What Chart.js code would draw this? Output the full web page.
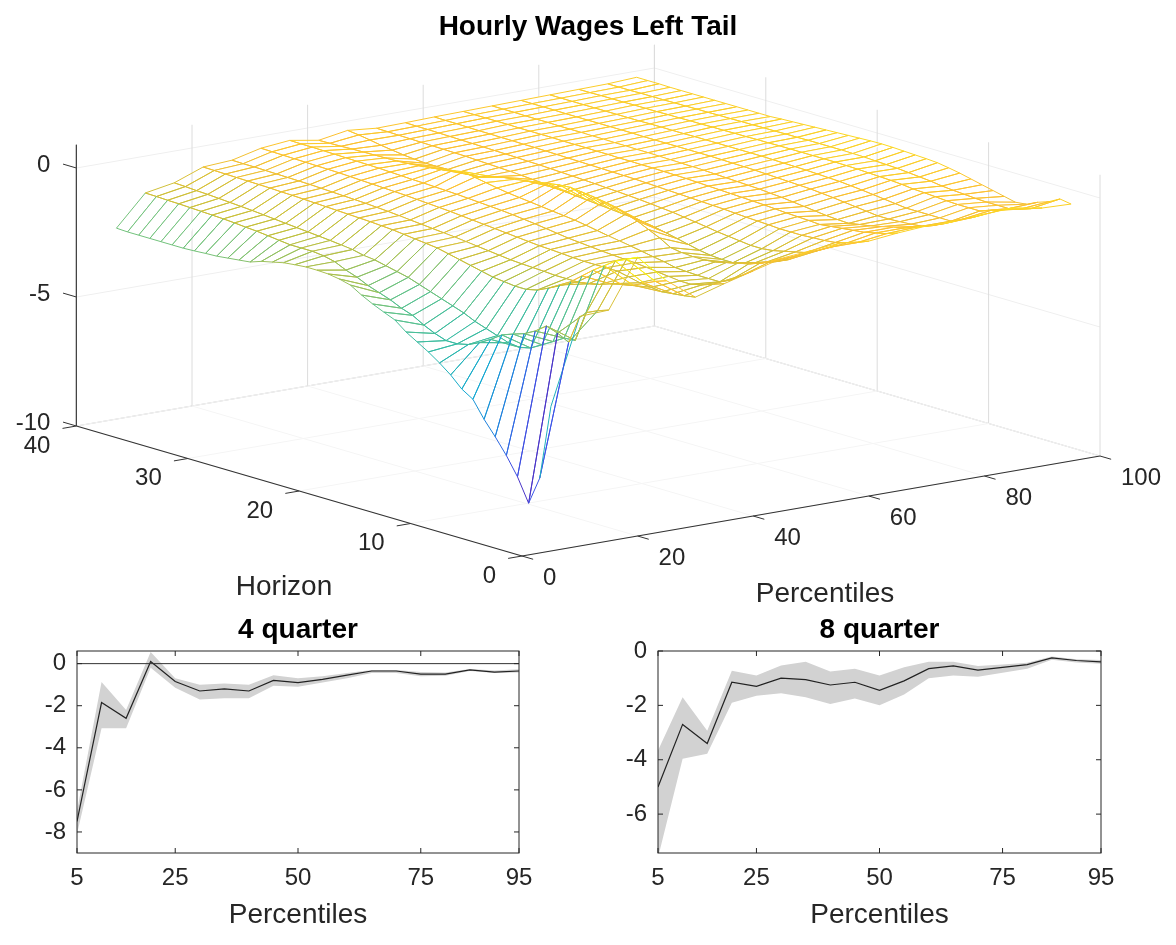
<!DOCTYPE html>
<html>
<head>
<meta charset="utf-8">
<title>Hourly Wages Left Tail</title>
<script src="https://cdn.jsdelivr.net/npm/chart.js@4"></script>
<style>
  html, body { margin: 0; background: #fff; }
  canvas { position: absolute; }
</style>
</head>
<body>
<canvas id="surfaceChart" width="1176" height="610" style="left:0;top:0"></canvas>
<canvas id="q4Chart" width="540" height="335" style="left:0;top:610px"></canvas>
<canvas id="q8Chart" width="530" height="335" style="left:590px;top:610px"></canvas>
<script>
const percentiles = [5,10,15,20,25,30,35,40,45,50,55,60,65,70,75,80,85,90,95];
const horizons = [0,1,2,3,4,5,6,7,8,9,10,11,12,13,14,15,16,17,18,19,20,21,22,23,24,25,26,27,28,29,30,31,32,33,34,35,36,37,38,39];

// one row per horizon, one value per percentile
const surfaceZ = [
  [-4.40,-1.10,-1.05,0.80,-0.30,-1.13,-0.80,-0.50,-0.20,-0.10,0.00,-0.12,0.00,0.08,0.08,0.15,0.20,0.00,-0.04],
  [-7.30,-2.23,-1.20,0.60,-0.45,-1.20,-0.95,-0.80,-0.45,-0.40,-0.30,-0.30,-0.15,-0.10,-0.15,-0.10,0.00,-0.15,0.03],
  [-8.40,-2.00,-1.40,0.40,-0.65,-1.25,-1.10,-1.10,-0.65,-0.70,-0.55,-0.45,-0.25,-0.25,-0.35,-0.30,-0.15,-0.30,-0.20],
  [-7.50,-1.85,-2.60,0.10,-0.85,-1.30,-1.20,-1.30,-0.80,-0.90,-0.75,-0.55,-0.35,-0.35,-0.50,-0.50,-0.30,-0.40,-0.35],
  [-6.80,-2.17,-2.64,-0.20,-0.95,-1.25,-1.20,-1.30,-0.90,-1.05,-0.85,-0.60,-0.40,-0.45,-0.55,-0.50,-0.30,-0.40,-0.55],
  [-6.20,-2.40,-2.90,-0.55,-1.05,-1.20,-1.15,-1.30,-1.00,-1.20,-0.95,-0.62,-0.45,-0.55,-0.58,-0.50,-0.30,-0.40,-0.60],
  [-5.65,-2.54,-3.15,-0.90,-1.20,-1.10,-1.10,-1.28,-1.10,-1.35,-1.05,-0.65,-0.50,-0.62,-0.60,-0.50,-0.28,-0.38,-0.50],
  [-5.00,-2.70,-3.40,-1.15,-1.30,-1.00,-1.05,-1.25,-1.15,-1.45,-1.10,-0.65,-0.55,-0.70,-0.60,-0.50,-0.25,-0.35,-0.40],
  [-4.73,-3.00,-3.50,-1.40,-1.35,-1.00,-1.00,-1.15,-1.15,-1.45,-1.10,-0.65,-0.52,-0.68,-0.55,-0.45,-0.22,-0.32,-0.30],
  [-4.31,-3.25,-3.45,-1.60,-1.35,-1.00,-0.98,-1.08,-1.12,-1.42,-1.05,-0.62,-0.50,-0.65,-0.50,-0.40,-0.20,-0.28,-0.20],
  [-3.97,-3.45,-3.30,-1.70,-1.35,-1.00,-0.95,-1.00,-1.05,-1.35,-1.00,-0.60,-0.48,-0.60,-0.45,-0.35,-0.15,-0.22,-0.10],
  [-3.67,-3.55,-3.15,-1.70,-1.32,-0.98,-0.92,-0.92,-0.80,-1.25,-0.95,-0.58,-0.45,-0.55,-0.40,-0.30,-0.12,-0.18,-0.02],
  [-3.41,-3.55,-3.00,-1.65,-1.30,-0.95,-0.88,-0.85,-0.60,-1.15,-0.88,-0.55,-0.42,-0.50,-0.36,-0.26,-0.10,-0.14,0.05],
  [-3.15,-3.40,-2.80,-1.60,-1.28,-0.92,-0.84,-0.78,-0.40,-1.05,-0.82,-0.52,-0.40,-0.45,-0.32,-0.22,-0.08,-0.10,0.08],
  [-2.81,-3.20,-2.65,-1.50,-1.25,-0.90,-0.80,-0.70,-0.25,-0.96,-0.76,-0.50,-0.38,-0.42,-0.30,-0.20,-0.06,-0.08,0.10],
  [-2.63,-2.95,-2.50,-1.40,-1.20,-0.86,-0.74,-0.62,-0.10,-0.90,-0.70,-0.48,-0.36,-0.38,-0.28,-0.18,-0.05,-0.06,0.12],
  [-2.44,-2.80,-2.35,-1.30,-1.15,-0.82,-0.68,-0.55,-0.02,-0.84,-0.66,-0.46,-0.34,-0.36,-0.26,-0.16,-0.04,-0.04,0.14],
  [-2.22,-2.60,-2.20,-1.20,-1.10,-0.78,-0.62,-0.50,0.05,-0.80,-0.62,-0.44,-0.32,-0.34,-0.24,-0.15,-0.04,-0.03,0.15],
  [-1.96,-2.45,-2.05,-1.10,-1.05,-0.74,-0.57,-0.45,0.10,-0.76,-0.58,-0.42,-0.30,-0.32,-0.22,-0.14,-0.04,-0.02,0.14],
  [-1.85,-2.30,-1.95,-1.05,-1.00,-0.70,-0.52,-0.40,0.15,-0.72,-0.55,-0.40,-0.28,-0.30,-0.21,-0.13,-0.04,-0.02,0.12],
  [-1.78,-2.10,-1.85,-1.00,-0.96,-0.66,-0.48,-0.35,0.12,-0.68,-0.52,-0.38,-0.27,-0.28,-0.20,-0.12,-0.04,-0.02,0.10],
  [-1.76,-1.95,-1.75,-0.95,-0.92,-0.62,-0.45,-0.30,0.05,-0.64,-0.50,-0.36,-0.26,-0.27,-0.19,-0.12,-0.04,-0.02,0.08],
  [-1.76,-1.75,-1.70,-0.90,-0.88,-0.58,-0.42,-0.25,-0.02,-0.60,-0.47,-0.35,-0.25,-0.26,-0.18,-0.12,-0.05,-0.03,0.06],
  [-1.80,-1.65,-1.60,-0.87,-0.84,-0.55,-0.39,-0.18,-0.10,-0.56,-0.45,-0.34,-0.25,-0.25,-0.18,-0.12,-0.05,-0.03,0.04],
  [-1.85,-1.60,-1.55,-0.84,-0.80,-0.52,-0.36,-0.10,-0.17,-0.52,-0.43,-0.33,-0.24,-0.24,-0.18,-0.12,-0.06,-0.04,0.02],
  [-1.95,-1.60,-1.50,-0.82,-0.76,-0.49,-0.34,-0.02,-0.22,-0.49,-0.41,-0.32,-0.24,-0.23,-0.18,-0.12,-0.06,-0.04,0.00],
  [-2.05,-1.60,-1.46,-0.80,-0.73,-0.46,-0.32,0.07,-0.32,-0.46,-0.39,-0.31,-0.23,-0.23,-0.18,-0.12,-0.07,-0.05,-0.02],
  [-2.20,-1.55,-1.42,-0.78,-0.70,-0.44,-0.30,-0.02,-0.46,-0.43,-0.37,-0.30,-0.23,-0.22,-0.18,-0.13,-0.07,-0.05,-0.05],
  [-2.25,-1.50,-1.38,-0.76,-0.68,-0.42,-0.29,-0.10,-0.50,-0.41,-0.36,-0.29,-0.22,-0.22,-0.18,-0.13,-0.08,-0.06,-0.05],
  [-2.30,-1.45,-1.34,-0.74,-0.66,-0.40,-0.27,-0.15,-0.52,-0.39,-0.34,-0.28,-0.22,-0.21,-0.17,-0.13,-0.08,-0.06,-0.05],
  [-2.35,-1.42,-1.30,-0.72,-0.64,-0.38,-0.25,-0.20,-0.54,-0.37,-0.33,-0.27,-0.22,-0.21,-0.17,-0.13,-0.09,-0.07,-0.05],
  [-2.37,-1.38,-1.26,-0.70,-0.62,-0.36,-0.23,-0.24,-0.55,-0.35,-0.32,-0.27,-0.21,-0.20,-0.17,-0.14,-0.09,-0.07,-0.05],
  [-2.40,-1.35,-1.22,-0.69,-0.60,-0.34,-0.22,-0.27,-0.55,-0.34,-0.31,-0.26,-0.21,-0.20,-0.17,-0.14,-0.10,-0.08,-0.05],
  [-2.42,-1.33,-1.19,-0.67,-0.59,-0.33,-0.21,-0.28,-0.52,-0.33,-0.30,-0.26,-0.21,-0.20,-0.17,-0.14,-0.10,-0.08,-0.05],
  [-2.42,-1.31,-1.16,-0.66,-0.58,-0.32,-0.20,-0.29,-0.48,-0.32,-0.29,-0.25,-0.21,-0.19,-0.17,-0.14,-0.10,-0.09,-0.05],
  [-2.42,-1.29,-1.13,-0.65,-0.57,-0.31,-0.19,-0.30,-0.42,-0.31,-0.28,-0.25,-0.20,-0.19,-0.17,-0.14,-0.11,-0.09,-0.05],
  [-2.42,-1.27,-1.10,-0.64,-0.56,-0.30,-0.18,-0.31,-0.36,-0.30,-0.27,-0.24,-0.20,-0.19,-0.16,-0.14,-0.11,-0.09,-0.05],
  [-2.42,-1.26,-1.08,-0.63,-0.55,-0.29,-0.17,-0.33,-0.28,-0.29,-0.26,-0.23,-0.20,-0.18,-0.16,-0.14,-0.11,-0.10,-0.04],
  [-2.42,-1.24,-1.05,-0.62,-0.55,-0.28,-0.17,-0.34,-0.21,-0.28,-0.26,-0.23,-0.20,-0.18,-0.16,-0.14,-0.12,-0.10,-0.04],
  [-2.40,-1.23,-1.03,-0.61,-0.54,-0.27,-0.16,-0.35,-0.16,-0.27,-0.25,-0.22,-0.20,-0.18,-0.16,-0.14,-0.12,-0.10,-0.04]
];

const q4Line = [-7.5,-1.85,-2.6,0.1,-0.85,-1.3,-1.2,-1.3,-0.8,-0.9,-0.75,-0.55,-0.35,-0.35,-0.5,-0.5,-0.3,-0.4,-0.35];
const q4Upper = [-7.0,-0.87,-2.2,0.55,-0.7,-1.0,-0.95,-1.0,-0.55,-0.7,-0.6,-0.45,-0.3,-0.3,-0.4,-0.42,-0.25,-0.33,-0.27];
const q4Lower = [-8.1,-3.07,-3.07,-0.2,-1.15,-1.7,-1.65,-1.65,-1.05,-1.1,-0.9,-0.7,-0.45,-0.45,-0.6,-0.58,-0.35,-0.45,-0.42];
const q8Line = [-5.0,-2.7,-3.4,-1.15,-1.3,-1.0,-1.05,-1.25,-1.15,-1.45,-1.1,-0.65,-0.55,-0.7,-0.6,-0.5,-0.25,-0.35,-0.4];
const q8Upper = [-3.66,-1.7,-2.93,-0.73,-0.9,-0.53,-0.4,-0.75,-0.65,-0.9,-0.6,-0.4,-0.4,-0.55,-0.5,-0.43,-0.2,-0.3,-0.33];
const q8Lower = [-7.6,-3.96,-3.78,-1.9,-1.65,-1.55,-1.7,-1.95,-1.75,-2.0,-1.6,-1.0,-0.9,-0.95,-0.8,-0.65,-0.32,-0.42,-0.47];

const pctTicks3d = [0,20,40,60,80,100];
const horizonTicks3d = [0,10,20,30,40];
const zTicks3d = [0,-5,-10];
const bottomXTicks = [5,25,50,75,95];
const q4YTicks = [-8,-6,-4,-2,0];
const q8YTicks = [-6,-4,-2,0];

const parula = ['#4a35c8','#3a55e8','#1c85dc','#12a8d0','#2eb9a8','#5ec28c','#c2c03c','#fcc030','#f9fb0e'];
const textCol = '#262626';
const fontFam = '"Liberation Sans", Arial, sans-serif';

// view: pixels per data unit, fitted on the axis corners of the picture
function project(p, h, z) {
  return {
    x: 522 + 5.78 * p - 11.14 * h,
    y: 556 - 1.0 * p - 3.25 * h - 25.8 * (z + 10)
  };
}

function zColor(z) {
  let t = (z + 8.4) / 9.2 * (parula.length - 1);
  t = Math.max(0, Math.min(parula.length - 1.001, t));
  let i = Math.floor(t), f = t - i;
  let a = parula[i], b = parula[i + 1];
  let ch = n => Math.round(parseInt(a.substr(n, 2), 16) * (1 - f) + parseInt(b.substr(n, 2), 16) * f);
  return 'rgb(' + ch(1) + ',' + ch(3) + ',' + ch(5) + ')';
}

function line3d(pts, col, w) {
  return {
    data: pts.map(q => project(q[0], q[1], q[2])),
    showLine: true, pointRadius: 0, borderColor: col, borderWidth: w, fill: false
  };
}

// mesh cells, nearest first: chart.js paints the first dataset last
let cells = [];
for (let j = 0; j < horizons.length - 1; j++) {
  for (let i = 0; i < percentiles.length - 1; i++) {
    cells.push({ i, j, depth: 0.0305 * i + 0.0198 * j });
  }
}
cells.sort((a, b) => a.depth - b.depth);

let surfaceSets = cells.map(c => {
  let corners = [[c.i, c.j], [c.i + 1, c.j], [c.i + 1, c.j + 1], [c.i, c.j + 1], [c.i, c.j]];
  let zs = corners.map(k => surfaceZ[k[1]][k[0]]);
  // flat edge colour: an edge takes the colour of its lower corner, as in matlab's mesh
  let edgeZ = [zs[0], zs[1], zs[3], zs[0]];
  return {
    data: corners.map((k, n) => project(percentiles[k[0]], horizons[k[1]], zs[n])),
    showLine: true, pointRadius: 0, borderWidth: 1, tension: 0,
    fill: 'shape', backgroundColor: '#ffffff', borderColor: '#888',
    segment: { borderColor: s => zColor(edgeZ[s.p0DataIndex]) }
  };
});

// front axes, on top of everything
let axisSets = [
  line3d([[0,0,-10],[100,0,-10]], '#333', 1.2),
  line3d([[0,0,-10],[0,40,-10]], '#333', 1.2),
  line3d([[0,40,-10],[0,40,0.9]], '#444', 1.2)
];
pctTicks3d.forEach(p => axisSets.push(line3d([[p,0,-10],[p,-1,-10]], '#333', 1)));
horizonTicks3d.forEach(h => axisSets.push(line3d([[0,h,-10],[-2.4,h,-10]], '#333', 1)));
zTicks3d.forEach(z => axisSets.push(line3d([[0,40,z],[0,41.2,z]], '#333', 1)));

// walls and floor behind the mesh
let gridSets = [];
pctTicks3d.forEach(p => {
  gridSets.push(line3d([[p,0,-10],[p,40,-10]], '#f5f5f5', 1));
  gridSets.push(line3d([[p,40,-10],[p,40,0.9]], p == 0 ? '#444' : '#dcdcdc', 1));
});
horizonTicks3d.forEach(h => {
  gridSets.push(line3d([[0,h,-10],[100,h,-10]], '#f5f5f5', 1));
  gridSets.push(line3d([[100,h,-10],[100,h,0.9]], '#dcdcdc', 1));
});
zTicks3d.forEach(z => {
  gridSets.push(line3d([[0,40,z],[100,40,z]], z == -10 ? '#c4c4c4' : '#efefef', 1));
  gridSets.push(line3d([[100,40,z],[100,0,z]], z == -10 ? '#c4c4c4' : '#efefef', 1));
});

const labels3d = {
  id: 'labels3d',
  afterDraw(chart) {
    let c = chart.ctx;
    c.save();
    c.fillStyle = textCol;
    c.textBaseline = 'middle';
    c.font = '24px ' + fontFam;
    c.textAlign = 'left';
    pctTicks3d.forEach(p => {
      let a = project(p, 0, -10);
      c.fillText(String(p), a.x + 21, a.y + 22);
    });
    c.textAlign = 'right';
    horizonTicks3d.forEach(h => {
      let a = project(0, h, -10);
      c.fillText(String(h), a.x - 26, a.y + 20);
    });
    zTicks3d.forEach(z => {
      let a = project(0, 40, z);
      c.fillText(String(z), a.x - 26, a.y - 3);
    });
    c.textAlign = 'center';
    c.font = '28px ' + fontFam;
    c.fillText('Horizon', 284, 587);
    c.fillText('Percentiles', 825, 594);
    c.fillStyle = '#000';
    c.font = 'bold 28px ' + fontFam;
    c.fillText('Hourly Wages Left Tail', 588, 27);
    c.restore();
  }
};

new Chart(document.getElementById('surfaceChart'), {
  type: 'scatter',
  data: { datasets: axisSets.concat(surfaceSets, gridSets) },
  plugins: [labels3d],
  options: {
    responsive: false,
    animation: false,
    events: [],
    layout: { padding: 0 },
    scales: {
      x: { type: 'linear', display: false, min: 0, max: 1176 },
      y: { type: 'linear', display: false, min: 0, max: 610, reverse: true }
    },
    plugins: { legend: { display: false }, tooltip: { enabled: false } }
  }
});

// box and inward ticks of the two small plots
const boxTicks = {
  id: 'boxTicks',
  afterDatasetsDraw(chart) {
    let c = chart.ctx, a = chart.chartArea;
    c.save();
    c.strokeStyle = '#262626';
    c.lineWidth = 1;
    c.strokeRect(a.left, a.top, a.right - a.left, a.bottom - a.top);
    c.beginPath();
    chart.scales.x.ticks.forEach(t => {
      let x = chart.scales.x.getPixelForValue(t.value);
      c.moveTo(x, a.bottom); c.lineTo(x, a.bottom - 5);
      c.moveTo(x, a.top); c.lineTo(x, a.top + 5);
    });
    chart.scales.y.ticks.forEach(t => {
      let y = chart.scales.y.getPixelForValue(t.value);
      c.moveTo(a.left, y); c.lineTo(a.left + 5, y);
      c.moveTo(a.right, y); c.lineTo(a.right - 5, y);
    });
    c.stroke();
    c.restore();
  }
};

function smallChart(id, title, line, upper, lower, yTicks, yMin, yMax, yWidth, padRight, zeroLine) {
  let pts = arr => arr.map((v, i) => ({ x: percentiles[i], y: v }));
  let sets = [
    { data: pts(line), borderColor: '#222', borderWidth: 1.2, pointRadius: 0, fill: false },
    { data: pts(upper), borderWidth: 0, pointRadius: 0, fill: '+1', backgroundColor: '#d2d2d2' },
    { data: pts(lower), borderWidth: 0, pointRadius: 0, fill: false }
  ];
  if (zeroLine) {
    sets.unshift({ data: [{ x: 5, y: 0 }, { x: 95, y: 0 }], borderColor: '#333', borderWidth: 1, pointRadius: 0, fill: false });
  }
  return new Chart(document.getElementById(id), {
    type: 'line',
    data: { datasets: sets },
    plugins: [boxTicks],
    options: {
      responsive: false,
      animation: false,
      events: [],
      layout: { padding: { left: 0, right: padRight, top: 0, bottom: 0 } },
      scales: {
        x: {
          type: 'linear', min: 5, max: 95,
          grid: { display: false, drawTicks: false }, border: { display: false },
          afterBuildTicks: s => { s.ticks = bottomXTicks.map(v => ({ value: v })); },
          afterFit: s => { s.height = 92; s.paddingLeft = 0; s.paddingRight = 0; },
          ticks: { color: textCol, font: { size: 24, family: fontFam }, padding: 11, maxRotation: 0, autoSkip: false },
          title: { display: true, text: 'Percentiles', color: textCol, font: { size: 28, family: fontFam }, padding: { top: 0, bottom: 13 } }
        },
        y: {
          min: yMin, max: yMax,
          grid: { display: false, drawTicks: false }, border: { display: false },
          afterBuildTicks: s => { s.ticks = yTicks.map(v => ({ value: v })); },
          afterFit: s => { s.width = yWidth; s.paddingTop = 0; s.paddingBottom = 0; },
          ticks: { color: textCol, font: { size: 24, family: fontFam }, padding: 11, autoSkip: false }
        }
      },
      plugins: {
        legend: { display: false },
        tooltip: { enabled: false },
        title: { display: true, fullSize: false, text: title, color: '#000', font: { size: 28, weight: 'bold', family: fontFam }, padding: { top: 3, bottom: 4.4 } }
      }
    }
  });
}

smallChart('q4Chart', '4 quarter', q4Line, q4Upper, q4Lower, q4YTicks, -9, 0.6, 77, 21, true);
smallChart('q8Chart', '8 quarter', q8Line, q8Upper, q8Lower, q8YTicks, -7.43, 0, 68, 19, false);
</script>
</body>
</html>
